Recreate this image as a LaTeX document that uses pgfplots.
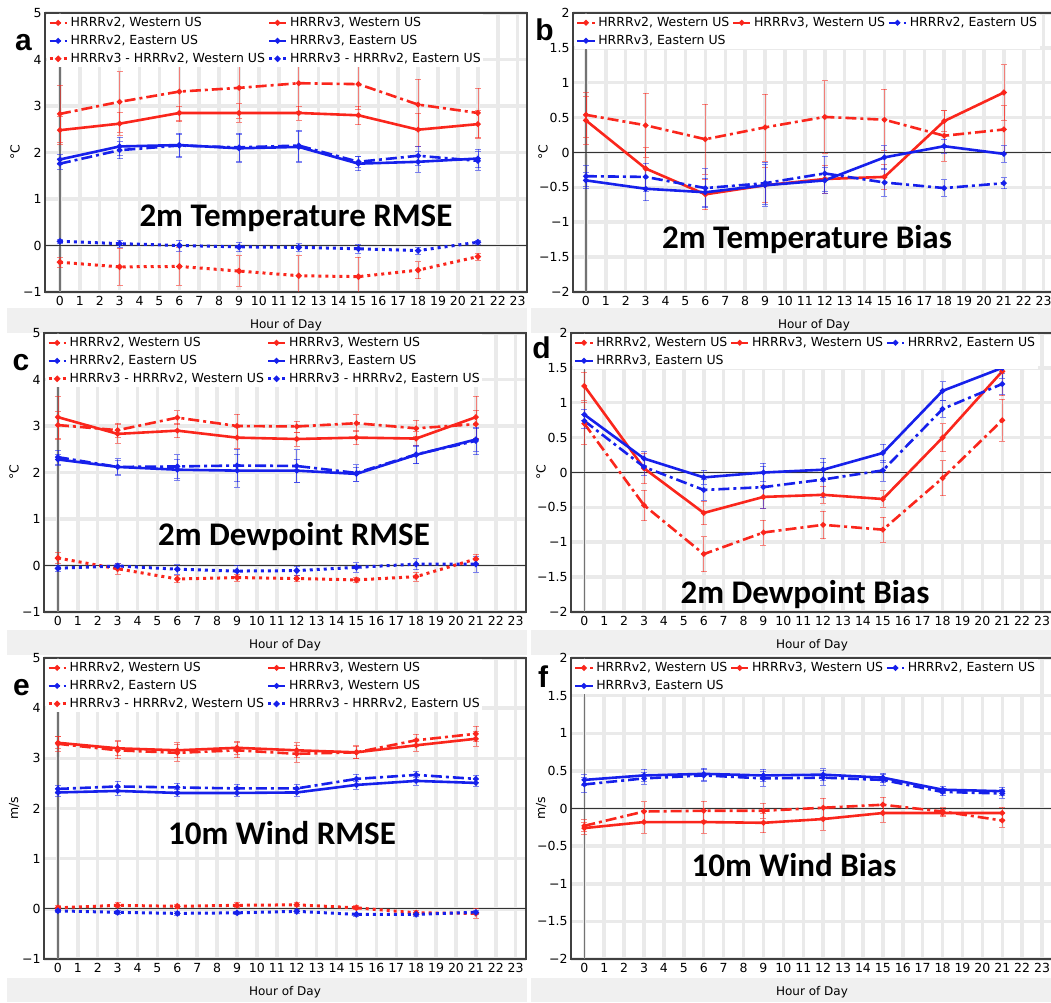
\documentclass[border=0pt]{standalone}
\usepackage{fontspec}
\setmainfont{DejaVu Sans}
\newfontfamily\titlefont{Carlito}
\newfontfamily\letterfont{Liberation Sans}
\usepackage{pgfplots}
\usepackage{pgfplotstable}
\pgfplotsset{compat=1.18}
\definecolor{cred}{RGB}{250,38,28}
\definecolor{cblue}{RGB}{22,32,235}
\definecolor{gridc}{RGB}{234,234,234}

\pgfplotstableread{
x v2W e1 v3W e2 v2E e3 v3E e4 dW e5 dE e6
0 2.83 0.62 2.48 0.30 1.76 0.12 1.85 0.10 -0.36 0.10 0.09 0.05
3 3.09 0.65 2.62 0.25 2.05 0.18 2.13 0.20 -0.46 0.40 0.04 0.08
6 3.31 0.65 2.85 0.15 2.15 0.25 2.16 0.25 -0.45 0.40 0.00 0.12
9 3.39 0.65 2.85 0.20 2.11 0.30 2.09 0.30 -0.55 0.33 -0.03 0.10
12 3.49 0.60 2.85 0.15 2.15 0.33 2.12 0.33 -0.65 0.43 -0.04 0.08
15 3.47 0.55 2.80 0.20 1.80 0.12 1.76 0.15 -0.67 0.42 -0.07 0.10
18 3.03 0.55 2.49 0.35 1.93 0.20 1.80 0.22 -0.53 0.18 -0.11 0.08
21 2.85 0.53 2.61 0.30 1.82 0.20 1.87 0.20 -0.24 0.07 0.07 0.05
}\tabA
\pgfplotstableread{
x v2W e1 v3W e2 v2E e3 v3E e4
0 0.54 0.32 0.46 0.35 -0.34 0.15 -0.40 0.12
3 0.39 0.46 -0.23 0.30 -0.35 0.20 -0.52 0.17
6 0.19 0.50 -0.60 0.22 -0.51 0.28 -0.57 0.20
9 0.36 0.48 -0.47 0.25 -0.44 0.30 -0.47 0.30
12 0.51 0.52 -0.38 0.20 -0.30 0.25 -0.40 0.18
15 0.47 0.44 -0.35 0.18 -0.43 0.20 -0.07 0.17
18 0.24 0.36 0.45 0.15 -0.51 0.12 0.09 0.10
21 0.33 0.34 0.86 0.40 -0.44 0.08 -0.02 0.12
}\tabB
\pgfplotstableread{
x v2W e1 v3W e2 v2E e3 v3E e4 dW e5 dE e6
0 3.02 0.30 3.19 0.45 2.33 0.15 2.28 0.12 0.16 0.12 -0.06 0.06
3 2.91 0.15 2.83 0.20 2.12 0.18 2.12 0.15 -0.07 0.12 -0.01 0.06
6 3.18 0.15 2.90 0.15 2.13 0.25 2.06 0.22 -0.29 0.08 -0.08 0.10
9 3.00 0.25 2.75 0.22 2.15 0.35 2.04 0.35 -0.26 0.08 -0.12 0.12
12 2.99 0.12 2.72 0.15 2.14 0.35 2.04 0.25 -0.28 0.06 -0.11 0.10
15 3.06 0.18 2.75 0.15 1.99 0.18 1.97 0.15 -0.31 0.05 -0.04 0.10
18 2.95 0.18 2.73 0.15 2.39 0.20 2.38 0.18 -0.24 0.10 0.03 0.12
21 3.04 0.30 3.19 0.45 2.68 0.30 2.71 0.25 0.14 0.10 0.03 0.17
}\tabC
\pgfplotstableread{
x v2W e1 v3W e2 v2E e3 v3E e4
0 0.70 0.30 1.24 0.20 0.74 0.10 0.83 0.08
3 -0.47 0.22 0.06 0.22 0.08 0.12 0.20 0.10
6 -1.17 0.25 -0.58 0.17 -0.25 0.15 -0.07 0.10
9 -0.86 0.18 -0.35 0.17 -0.21 0.30 0.00 0.13
12 -0.75 0.20 -0.32 0.12 -0.10 0.25 0.04 0.17
15 -0.82 0.18 -0.38 0.12 0.03 0.15 0.28 0.13
18 -0.08 0.25 0.50 0.20 0.91 0.12 1.17 0.13
21 0.75 0.30 1.45 0.35 1.27 0.15 1.50 0.15
}\tabD
\pgfplotstableread{
x v2W e1 v3W e2 v2E e3 v3E e4 dW e5 dE e6
0 3.29 0.15 3.31 0.12 2.39 0.08 2.32 0.08 0.02 0.04 -0.04 0.03
3 3.16 0.17 3.20 0.15 2.44 0.10 2.35 0.08 0.07 0.05 -0.07 0.03
6 3.11 0.17 3.16 0.15 2.42 0.08 2.31 0.07 0.05 0.04 -0.09 0.03
9 3.16 0.15 3.21 0.13 2.40 0.08 2.31 0.07 0.07 0.05 -0.08 0.03
12 3.09 0.17 3.16 0.15 2.40 0.08 2.32 0.07 0.08 0.04 -0.05 0.03
15 3.12 0.13 3.12 0.12 2.59 0.10 2.47 0.08 0.02 0.04 -0.11 0.03
18 3.36 0.12 3.26 0.12 2.67 0.08 2.55 0.08 -0.08 0.04 -0.11 0.03
21 3.49 0.15 3.39 0.15 2.59 0.07 2.51 0.07 -0.09 0.10 -0.07 0.03
}\tabE
\pgfplotstableread{
x v2W e1 v3W e2 v2E e3 v3E e4
0 -0.23 0.08 -0.26 0.08 0.32 0.10 0.38 0.07
3 -0.04 0.13 -0.18 0.15 0.40 0.08 0.44 0.08
6 -0.03 0.13 -0.18 0.15 0.44 0.08 0.46 0.08
9 -0.03 0.10 -0.19 0.13 0.40 0.10 0.44 0.08
12 0.01 0.13 -0.14 0.15 0.41 0.10 0.45 0.08
15 0.05 0.10 -0.06 0.12 0.38 0.07 0.41 0.06
18 -0.04 0.05 -0.06 0.05 0.22 0.05 0.25 0.05
21 -0.16 0.09 -0.06 0.08 0.20 0.06 0.23 0.05
}\tabF

\pgfplotsset{
  panel/.style={
    scale only axis, width=482pt,
    axis line style={black!75, line width=1.2pt},
    xtick={0,...,23},
    /pgf/number format/assume math mode=true,
    major tick length=0pt,
    grid=major, major grid style={gridc, line width=3.5pt},
    tick label style={font=\fontsize{12.5}{14}\selectfont},
    xticklabel style={yshift=-1pt},
    xlabel={Hour of Day},
    xlabel style={font=\fontsize{12}{14}\selectfont, at={(axis description cs:0.5,0)}, anchor=center, yshift=-33pt},
    ylabel style={font=\fontsize{12.5}{14}\selectfont, at={(axis description cs:-0.062,0.5)}, anchor=center},
    extra x ticks={0}, extra x tick labels={},
    extra x tick style={grid=major, major grid style={black!55, line width=1.3pt}},
    extra y ticks={0}, extra y tick labels={},
    extra y tick style={grid=major, major grid style={black!80, line width=0.8pt}},
    legend style={draw=none, fill=white, font=\fontsize{12.5}{15}\selectfont,
      at={(0.004,0.996)}, anchor=north west, inner sep=1pt,
      nodes={inner sep=1.5pt, text height=9.5pt, text depth=2.5pt}, row sep=3pt, column sep=1pt},
    legend cell align=left,
  },
  rmse/.style={panel, ymin=-1, ymax=5, ytick={-1,0,1,2,3,4,5},
    yticklabels={−1,0,1,2,3,4,5}, legend columns=2},
  bias/.style={panel, ymin=-2, ymax=2, ytick={-2,-1.5,-1,-0.5,0,0.5,1,1.5,2},
    yticklabels={−2,−1.5,−1,−0.5,0,0.5,1,1.5,2}, legend columns=3},
  eb/.style={error bars/y dir=both, error bars/y explicit,
    error bars/error bar style={solid, line width=0.7pt, opacity=0.55},
    error bars/error mark options={solid, rotate=90, mark size=3pt, line width=0.7pt, opacity=0.55}},
  dd/.style={line width=2.6pt, dash pattern=on 11pt off 4pt on 3pt off 4pt, mark=*, mark size=1.3pt, mark options={solid}, eb},
  sl/.style={line width=2.6pt, solid, mark=*, mark size=1.3pt, eb},
  dt/.style={line width=3pt, line cap=butt, dash pattern=on 3pt off 4pt, mark=*, mark size=1.3pt, mark options={solid}, eb},
}

\newcommand{\fourplots}[2]{%
  \addplot[cred, dd] table[x=x, y=v2W, y error=e1]{#1};
  \addlegendentry{HRRRv2, Western US}
  \addplot[cred, sl] table[x=x, y=v3W, y error=e2]{#1};
  \addlegendentry{HRRRv3, Western US}
  \addplot[cblue, dd] table[x=x, y=v2E, y error=e3]{#1};
  \addlegendentry{HRRRv2, Eastern US}
  \addplot[cblue, sl] table[x=x, y=v3E, y error=e4]{#1};
  \addlegendentry{#2}
}
\newcommand{\diffplots}[1]{%
  \addplot[cred, dt] table[x=x, y=dW, y error=e5]{#1};
  \addlegendentry{HRRRv3 - HRRRv2, Western US}
  \addplot[cblue, dt] table[x=x, y=dE, y error=e6]{#1};
  \addlegendentry{HRRRv3 - HRRRv2, Eastern US}
}

\begin{document}
\begin{tikzpicture}[x=1pt, y=1pt]
\useasboundingbox (0,0) rectangle (1051,1002);
\clip (0,0) rectangle (1051,1002);
% light bands behind the x labels
\fill[black!6] (7,669) rectangle (527,694);
\fill[black!6] (531,669) rectangle (1051,694);
\fill[black!6] (7,347) rectangle (527,372);
\fill[black!6] (531,347) rectangle (1051,372);
\fill[black!6] (7,0) rectangle (527,24);
\fill[black!6] (531,0) rectangle (1051,24);

% a
\begin{axis}[rmse, at={(45pt,710pt)}, anchor=south west, height=279pt,
  xmin=-0.75, xmax=23.47, ylabel={°C}]
  \fourplots{\tabA}{HRRRv3, Eastern US}
  \diffplots{\tabA}
\end{axis}
% b
\begin{axis}[bias, at={(573pt,710pt)}, anchor=south west, height=279pt,
  xmin=-0.65, xmax=23.57, ylabel={°C}]
  \fourplots{\tabB}{HRRRv3, Eastern US}
\end{axis}
% c
\begin{axis}[rmse, at={(44pt,390pt)}, anchor=south west, height=279pt,
  xmin=-0.7, xmax=23.52, ylabel={°C}]
  \fourplots{\tabC}{HRRRv3, Eastern US}
  \diffplots{\tabC}
\end{axis}
% d
\begin{axis}[bias, at={(571pt,390pt)}, anchor=south west, height=279pt,
  xmin=-0.67, xmax=23.55, ylabel={°C}]
  \fourplots{\tabD}{HRRRv3, Eastern US}
\end{axis}
% e
\begin{axis}[rmse, at={(44pt,43pt)}, anchor=south west, height=301pt,
  xmin=-0.7, xmax=23.52, ylabel={m/s}]
  \fourplots{\tabE}{HRRRv3, Western US}
  \diffplots{\tabE}
\end{axis}
% f
\begin{axis}[bias, at={(571pt,43pt)}, anchor=south west, height=301pt,
  xmin=-0.67, xmax=23.55, ylabel={m/s}]
  \fourplots{\tabF}{HRRRv3, Eastern US}
\end{axis}

% panel titles
\begin{scope}[every node/.style={font=\titlefont\bfseries\fontsize{33}{36}\selectfont}]
\node at (296,784) {2m Temperature RMSE};
\node at (807,762) {2m Temperature Bias};
\node at (294,465) {2m Dewpoint RMSE};
\node at (805,407) {2m Dewpoint Bias};
\node at (282,169) {10m Wind RMSE};
\node at (794,137) {10m Wind Bias};
\end{scope}
% panel letters
\begin{scope}[every node/.style={inner sep=0pt, font=\letterfont\bfseries\fontsize{30}{32}\selectfont}]
\node at (23.5,959.5) {a};
\node at (544.5,972) {b};
\node at (21,639) {c};
\node at (541.5,654) {d};
\node at (21.5,314.5) {e};
\node at (543,325) {f};
\end{scope}
\end{tikzpicture}
\end{document}
